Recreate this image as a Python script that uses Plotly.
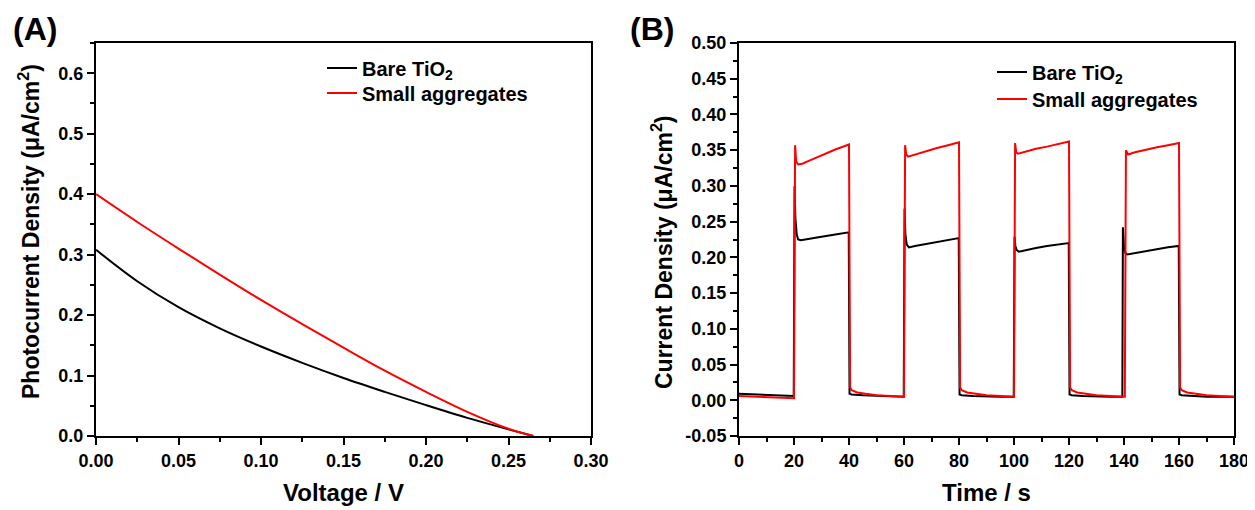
import plotly.graph_objects as go

# ---------------- Panel A: J-V ----------------
voltage = [0.0, 0.025, 0.05, 0.075, 0.10, 0.125, 0.15, 0.175, 0.20, 0.225, 0.25, 0.265]
jv_bare = [0.308, 0.256, 0.213, 0.178, 0.148, 0.121, 0.096, 0.073, 0.051, 0.030, 0.011, 0.0]
jv_small = [0.400, 0.354, 0.310, 0.267, 0.225, 0.185, 0.146, 0.108, 0.073, 0.040, 0.012, 0.0]

# ---------------- Panel B: transient photocurrent ----------------
t_bare = [0, 5, 10, 15, 19.9, 20.2, 20.5, 21.0, 21.5, 22.5, 25, 30, 35, 39.9,
          40.2, 41, 45, 50, 55, 59.9,
          60.2, 60.5, 61.0, 61.8, 64, 68, 72, 76, 79.9,
          80.2, 81, 85, 90, 95, 99.9,
          100.2, 100.5, 101.0, 101.8, 104, 108, 112, 116, 119.9,
          120.2, 121, 125, 130, 135, 139.4,
          139.6, 140.0, 140.5, 141.2, 144, 148, 152, 156, 159.9,
          160.2, 161, 165, 170, 175, 180]
j_bare = [0.009, 0.008, 0.007, 0.006, 0.006, 0.300, 0.255, 0.232, 0.225, 0.224, 0.226, 0.229, 0.232, 0.235,
          0.009, 0.008, 0.007, 0.006, 0.005, 0.005,
          0.268, 0.232, 0.218, 0.214, 0.216, 0.219, 0.222, 0.224, 0.227,
          0.008, 0.007, 0.006, 0.005, 0.005, 0.005,
          0.229, 0.216, 0.210, 0.208, 0.210, 0.213, 0.216, 0.218, 0.220,
          0.008, 0.007, 0.006, 0.005, 0.005, 0.005,
          0.242, 0.215, 0.206, 0.204, 0.206, 0.209, 0.212, 0.214, 0.216,
          0.008, 0.007, 0.006, 0.005, 0.005, 0.005]

t_small = [0, 5, 10, 15, 20.0, 20.4, 20.8, 21.5, 23, 26, 30, 35, 40.0,
           40.4, 41, 43, 46, 50, 55, 60.0,
           60.4, 60.8, 61.5, 64, 68, 72, 76, 80.0,
           80.4, 81, 83, 86, 90, 95, 100.0,
           100.4, 100.8, 101.5, 104, 108, 112, 116, 120.0,
           120.4, 121, 123, 126, 130, 135, 140.3,
           140.7, 141.5, 144, 148, 152, 156, 160.0,
           160.4, 161, 163, 166, 170, 175, 180]
j_small = [0.006, 0.005, 0.004, 0.004, 0.003, 0.357, 0.334, 0.330, 0.331, 0.336, 0.343, 0.351, 0.358,
           0.018, 0.014, 0.011, 0.009, 0.007, 0.006, 0.005,
           0.357, 0.344, 0.341, 0.344, 0.349, 0.353, 0.357, 0.361,
           0.018, 0.014, 0.011, 0.009, 0.007, 0.006, 0.005,
           0.360, 0.347, 0.345, 0.348, 0.352, 0.355, 0.358, 0.362,
           0.018, 0.014, 0.011, 0.009, 0.007, 0.006, 0.005,
           0.350, 0.344, 0.347, 0.351, 0.354, 0.357, 0.360,
           0.018, 0.014, 0.011, 0.009, 0.007, 0.006, 0.005]

series_names = ["Bare TiO<sub>2</sub>", "Small aggregates"]

ya_ticks = [0.0, 0.1, 0.2, 0.3, 0.4, 0.5, 0.6]
ya_labels = ["0.0", "0.1", "0.2", "0.3", "0.4", "0.5", "0.6"]
xa_ticks = [0.0, 0.05, 0.10, 0.15, 0.20, 0.25, 0.30]
xa_labels = ["0.00", "0.05", "0.10", "0.15", "0.20", "0.25", "0.30"]
yb_ticks = [-0.05, 0.0, 0.05, 0.10, 0.15, 0.20, 0.25, 0.30, 0.35, 0.40, 0.45, 0.50]
yb_labels = ["-0.05", "0.00", "0.05", "0.10", "0.15", "0.20", "0.25", "0.30", "0.35", "0.40", "0.45", "0.50"]
xb_ticks = [0, 20, 40, 60, 80, 100, 120, 140, 160, 180]
xb_labels = ["0", "20", "40", "60", "80", "100", "120", "140", "160", "180"]

# page has an 8px body margin: figure is placed at (8, 8)
OFF = 8
W, H = 1255 - OFF, 510 - OFF
ML, MT = 96 - OFF, 43 - OFF
MR = W - (1234 - OFF)
MB = H - (436 - OFF)
PW = W - ML - MR
PH = H - MT - MB
FONT = "Liberation Sans, Arial, sans-serif"
BLACK = "#000000"
RED = "#ff0000"


def px(x):  # page pixel -> paper fraction
    return (x - OFF - ML) / PW


def py(y):
    return 1 - (y - OFF - MT) / PH


fig = go.Figure()
fig.add_trace(go.Scatter(x=voltage, y=jv_bare, mode="lines", name=series_names[0],
                         line=dict(color=BLACK, width=2, shape="spline", smoothing=1.0),
                         xaxis="x", yaxis="y", legend="legend"))
fig.add_trace(go.Scatter(x=voltage, y=jv_small, mode="lines", name=series_names[1],
                         line=dict(color=RED, width=2, shape="spline", smoothing=1.0),
                         xaxis="x", yaxis="y", legend="legend2"))
fig.add_trace(go.Scatter(x=t_bare, y=j_bare, mode="lines", name=series_names[0],
                         line=dict(color=BLACK, width=2), xaxis="x2", yaxis="y2", legend="legend3"))
fig.add_trace(go.Scatter(x=t_small, y=j_small, mode="lines", name=series_names[1],
                         line=dict(color=RED, width=2), xaxis="x2", yaxis="y2", legend="legend4"))

tickfont = dict(family=FONT, size=18, color=BLACK, weight="bold")


def ax(domain, rng, tickvals, ticktext, minor_dtick, anchor):
    return dict(domain=domain, range=rng, tickmode="array", tickvals=tickvals, ticktext=ticktext,
                showline=True, linecolor=BLACK, linewidth=2, mirror=True,
                ticks="outside", ticklen=7, tickwidth=2, tickcolor=BLACK,
                minor=dict(dtick=minor_dtick, tick0=0, ticks="outside", ticklen=4, tickwidth=2,
                           tickcolor=BLACK, showgrid=False),
                showgrid=False, zeroline=False, tickfont=tickfont, anchor=anchor,
                automargin=False)


xA = (0, px(591))
xB = (px(739), 1.0)
yD = (0, 1)

legfont = dict(family=FONT, size=20, color=BLACK, weight="bold")


def leg(xpage, ypage):
    return dict(x=px(xpage - 40), y=py(ypage), xanchor="left", yanchor="middle",
                bgcolor="rgba(0,0,0,0)", borderwidth=0, font=legfont)


fig.update_layout(
    width=W, height=H,
    margin=dict(l=ML, r=MR, t=MT, b=MB, autoexpand=False),
    paper_bgcolor="white", plot_bgcolor="white",
    xaxis=ax(xA, [0, 0.30], xa_ticks, xa_labels, 0.025, "y"),
    yaxis=ax(yD, [0, 0.65], ya_ticks, ya_labels, 0.05, "x"),
    xaxis2=ax(xB, [0, 180], xb_ticks, xb_labels, 10, "y2"),
    yaxis2=ax(yD, [-0.05, 0.50], yb_ticks, yb_labels, 0.025, "x2"),
    legend=leg(362, 68),
    legend2=leg(362, 93),
    legend3=leg(1032, 72),
    legend4=leg(1032, 99),
    showlegend=True,
)

titlefont = dict(family=FONT, size=24, color=BLACK, weight="bold")
ytitlefont = dict(family=FONT, size=23, color=BLACK, weight="bold")
annotations = [
    dict(text="Voltage / V", x=px((96 + 591) / 2), y=py(492), xref="paper", yref="paper",
         showarrow=False, xanchor="center", yanchor="middle", font=titlefont),
    dict(text="Time / s", x=px((739 + 1234) / 2), y=py(492), xref="paper", yref="paper",
         showarrow=False, xanchor="center", yanchor="middle", font=titlefont),
    dict(text="Photocurrent Density (\u03bcA/cm<sup>2</sup>)", x=px(29), y=py(232),
         xref="paper", yref="paper", showarrow=False, textangle=-90,
         xanchor="center", yanchor="middle", font=ytitlefont),
    dict(text="Current Density (\u03bcA/cm<sup>2</sup>)", x=px(662), y=py(252),
         xref="paper", yref="paper", showarrow=False, textangle=-90,
         xanchor="center", yanchor="middle", font=ytitlefont),
    dict(text="(A)", x=px(11), y=py(29), xref="paper", yref="paper", showarrow=False,
         xanchor="left", yanchor="middle", font=dict(family=FONT, size=32, color=BLACK, weight="bold")),
    dict(text="(B)", x=px(628), y=py(29), xref="paper", yref="paper", showarrow=False,
         xanchor="left", yanchor="middle", font=dict(family=FONT, size=32, color=BLACK, weight="bold")),
]
fig.update_layout(annotations=annotations)

fig.write_html("out.html")
